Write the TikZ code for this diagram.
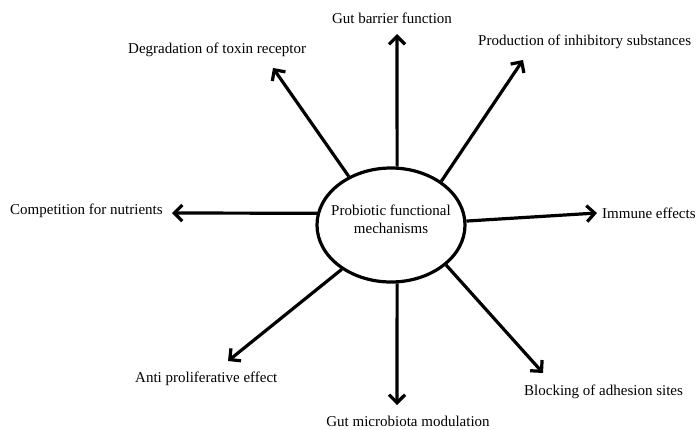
\documentclass[tikz,border=0pt]{standalone}
\usepackage{fontspec}
\setmainfont{Liberation Serif}
\usetikzlibrary{arrows.meta,shapes.geometric}
\begin{document}
\begin{tikzpicture}[x=1pt,y=-1pt,
  lbl/.style={font=\fontsize{15}{18}\selectfont, inner sep=0pt},
  arr/.style={line width=3.2pt, -{Straight Barb[length=8pt,width=16pt,line width=3.2pt]}},
  hub/.style={ellipse, draw, line width=3.2pt, minimum width=148pt, minimum height=114pt, inner sep=0pt}]
\useasboundingbox (0,0) rectangle (697,429);
\node[hub] (c) at (391,225) {};
\node[lbl, align=center] (ct) at (391,219) {Probiotic functional\\mechanisms};
% labels
\node[lbl, anchor=west] (deg) at (128,50) {Degradation of toxin receptor};
\node[lbl] (gbf) at (392,18) {Gut barrier function};
\node[lbl, anchor=west] (prod) at (478,42) {Production of inhibitory substances};
\node[lbl, anchor=west] (comp) at (10,211) {Competition for nutrients};
\node[lbl, anchor=west] (imm) at (602,213) {Immune effects};
\node[lbl, anchor=west] (anti) at (135,379) {Anti proliferative effect};
\node[lbl] (gmm) at (408,421) {Gut microbiota modulation};
\node[lbl, anchor=west] (blk) at (524,392) {Blocking of adhesion sites};
% arrow tips
\coordinate (tdeg) at (273,68);
\coordinate (tgbf) at (397,34);
\coordinate (tprod) at (523,60);
\coordinate (tcomp) at (172,213);
\coordinate (timm) at (597,213);
\coordinate (tanti) at (228,361);
\coordinate (tgmm) at (397,405);
\coordinate (tblk) at (543,373);
% arrows
\draw[arr] (c.131.8) -- (tdeg);
\draw[arr] (c.84) -- (tgbf);
\draw[arr] (c.41) -- (tprod);
\draw[arr] (c.171.5) -- (tcomp);
\draw[arr] (c.3) -- (timm);
\draw[arr] (c.222.7) -- (tanti);
\draw[arr] (c.-84) -- (tgmm);
\draw[arr] (c.-36.4) -- (tblk);
\end{tikzpicture}
\end{document}
